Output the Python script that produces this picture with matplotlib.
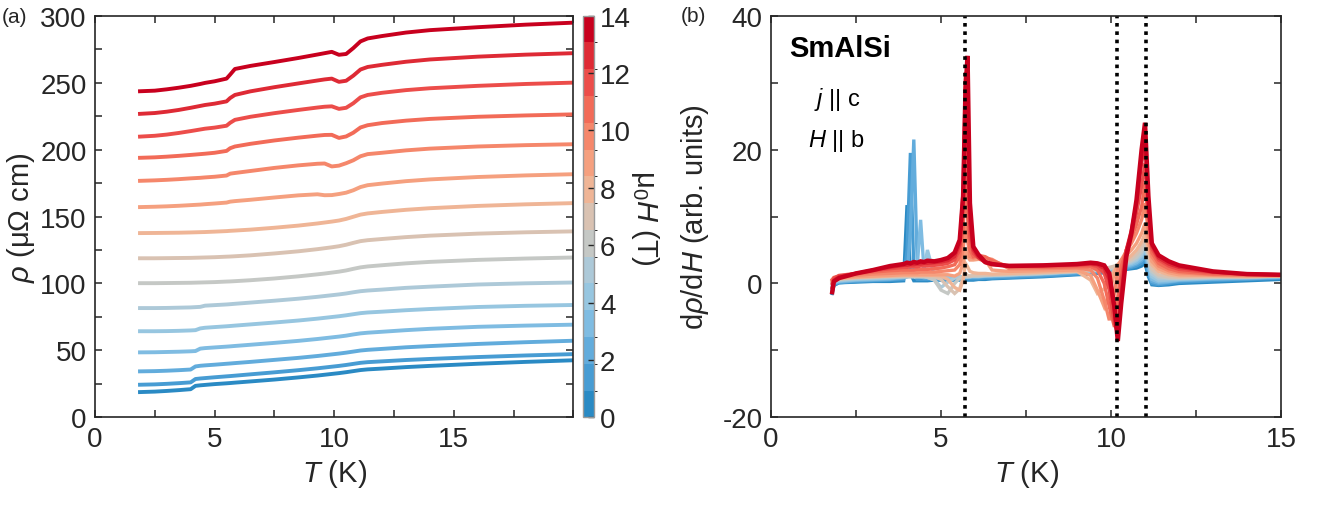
import numpy as np
import matplotlib.pyplot as plt
from matplotlib.colors import ListedColormap, BoundaryNorm
from matplotlib.cm import ScalarMappable

plt.rcParams['font.family'] = ['Liberation Sans', 'DejaVu Sans']
plt.rcParams['mathtext.fontset'] = 'custom'
plt.rcParams['mathtext.rm'] = 'Liberation Sans'
plt.rcParams['mathtext.it'] = 'Liberation Sans:italic'
plt.rcParams['mathtext.bf'] = 'Liberation Sans:bold'

# field values (T) and the 15-step colour map
fields = list(range(15))
field_colors = ['#2a8ac4', '#479cd3', '#62acdc', '#7fbce2', '#97c6e0',
                '#adc9d8', '#c5c8c5', '#d9c2b2', '#efb596', '#f5a07f',
                '#f5876b', '#f26b58', '#ec4d4a', '#de2a35', '#c8001e']

# ---- panel (a): resistivity vs T ----
T_rho = [1.8, 2.5, 3.0, 3.5, 4.0, 4.2, 4.4, 4.6, 5.0, 5.5, 5.65, 5.85, 6.5, 7.5, 8.5,
         9.3, 9.6, 9.9, 10.2, 10.5, 10.8, 11.1, 11.4, 12.0, 13.0, 14.0, 16.0, 18.0, 20.0]

rho_00 = [18.8, 19.2, 19.7, 20.3, 21.0, 23.5, 23.9, 24.2, 24.8, 25.4, 25.6, 25.9, 26.8, 28.2, 29.8,
          31.2, 31.8, 32.4, 33.0, 33.7, 34.5, 35.3, 35.8, 36.4, 37.5, 38.4, 40.0, 41.4, 42.6]
rho_01 = [24.3, 24.6, 25.0, 25.5, 26.1, 28.6, 29.0, 29.3, 29.9, 30.6, 30.8, 31.1, 32.1, 33.6, 35.2,
          36.6, 37.2, 37.8, 38.4, 39.1, 39.9, 40.7, 41.2, 41.8, 42.8, 43.6, 45.0, 46.2, 47.2]
rho_02 = [34.3, 34.5, 34.8, 35.2, 35.7, 38.0, 38.5, 38.8, 39.3, 40.0, 40.2, 40.5, 41.4, 42.9, 44.4,
          45.8, 46.4, 47.0, 47.6, 48.3, 49.1, 49.9, 50.4, 51.1, 52.3, 53.2, 54.8, 56.1, 57.2]
rho_03 = [48.5, 48.6, 48.8, 49.0, 49.3, 49.5, 51.3, 51.7, 52.2, 52.8, 53.0, 53.3, 54.2, 55.6, 57.1,
          58.5, 59.1, 59.7, 60.3, 61.0, 61.9, 62.7, 63.2, 63.9, 65.1, 66.1, 67.6, 68.5, 69.2]
rho_04 = [64.3, 64.3, 64.4, 64.6, 64.9, 65.1, 66.4, 66.9, 67.4, 68.0, 68.2, 68.5, 69.4, 70.8, 72.3,
          73.7, 74.3, 74.9, 75.5, 76.2, 77.0, 77.8, 78.3, 78.9, 80.0, 80.9, 82.4, 83.3, 83.9]
rho_05 = [81.6, 81.6, 81.7, 81.9, 82.1, 82.3, 82.5, 83.4, 83.8, 84.3, 84.5, 84.8, 85.7, 87.1, 88.6,
          90.0, 90.6, 91.2, 91.8, 92.5, 93.4, 94.2, 94.7, 95.4, 96.7, 97.6, 99.2, 100.1, 100.7]
rho_06 = [100.2, 100.2, 100.3, 100.4, 100.5, 100.6, 100.7, 100.8, 101.0, 101.4, 101.5, 101.7, 102.4, 103.7, 105.3,
          106.8, 107.4, 108.1, 108.8, 109.7, 110.9, 112.0, 112.7, 113.6, 115.0, 116.1, 117.6, 118.6, 119.4]
rho_07 = [118.8, 118.8, 118.9, 119.0, 119.1, 119.2, 119.3, 119.4, 119.6, 120.0, 120.1, 120.3, 121.0, 122.4, 124.0,
          125.6, 126.3, 127.0, 127.8, 128.9, 130.3, 131.6, 132.3, 133.2, 134.6, 135.7, 137.2, 138.2, 138.9]
rho_08 = [137.6, 137.7, 137.8, 137.9, 138.1, 138.2, 138.3, 138.4, 138.7, 139.1, 139.3, 139.5, 140.2, 141.6, 143.2,
          144.8, 145.5, 146.2, 147.0, 148.2, 149.8, 151.4, 152.3, 153.4, 155.0, 156.2, 157.9, 159.1, 160.0]
rho_09 = [157.0, 157.3, 157.6, 158.0, 158.5, 158.7, 158.9, 159.2, 159.7, 160.4, 161.1, 161.5, 162.5, 164.2, 165.8,
          166.6, 165.9, 166.0, 166.8, 167.8, 169.6, 172.0, 173.4, 174.6, 176.4, 177.7, 179.5, 180.7, 181.6]
rho_10 = [176.6, 177.0, 177.4, 177.9, 178.5, 178.7, 178.9, 179.2, 179.7, 180.6, 182.0, 182.5, 184.0, 186.3, 188.2,
          189.4, 189.6, 187.4, 188.0, 189.8, 192.0, 195.0, 196.6, 197.6, 199.4, 200.7, 202.3, 203.3, 204.0]
rho_11 = [193.8, 194.2, 194.7, 195.3, 196.0, 196.3, 196.6, 196.9, 197.6, 199.0, 201.0, 202.3, 204.3, 206.8, 208.9,
          210.4, 210.9, 211.0, 208.7, 209.8, 212.6, 216.5, 218.2, 219.8, 221.6, 222.9, 224.5, 225.5, 226.3]
rho_12 = [209.6, 210.3, 211.2, 212.4, 213.8, 214.4, 215.0, 215.6, 216.4, 217.8, 220.0, 222.2, 224.5, 227.2, 229.6,
          231.4, 232.0, 232.3, 230.4, 231.2, 234.6, 239.0, 240.8, 242.4, 244.4, 245.8, 247.6, 249.0, 250.0]
rho_13 = [226.6, 227.3, 228.3, 229.6, 231.2, 231.9, 232.6, 233.3, 234.3, 236.0, 238.5, 240.8, 243.5, 246.6, 249.4,
          251.6, 252.4, 253.0, 250.6, 251.4, 255.2, 259.8, 261.7, 263.3, 265.6, 267.3, 269.4, 270.9, 272.0]
rho_14 = [243.5, 244.0, 245.0, 246.2, 247.6, 248.3, 249.0, 249.8, 251.0, 253.0, 256.0, 260.2, 262.5, 265.4, 268.4,
          271.0, 272.0, 273.0, 270.8, 271.4, 275.8, 280.8, 283.0, 284.8, 287.4, 289.2, 291.4, 293.3, 294.8]

rho_curves = [rho_00, rho_01, rho_02, rho_03, rho_04, rho_05, rho_06, rho_07,
              rho_08, rho_09, rho_10, rho_11, rho_12, rho_13, rho_14]

# ---- panel (b): d rho / dH vs T ----
T_d = [1.8, 1.85, 2.0, 2.5, 3.0, 3.5, 3.9, 4.0, 4.1, 4.2, 4.3, 4.4, 4.5, 4.6, 4.8, 5.0, 5.2, 5.4,
       5.55, 5.65, 5.72, 5.78, 5.85, 5.95, 6.1, 6.3, 6.5, 7.0, 8.0, 9.0, 9.4, 9.6, 9.8, 9.95,
       10.1, 10.2, 10.3, 10.45, 10.6, 10.75, 10.9, 11.0, 11.1, 11.2, 11.4, 11.7, 12.0, 13.0, 14.0, 15.0]

d_00 = [-1.5, -0.3, 0.1, 0.2, 0.3, 0.3, 0.4, 11.7, 1.5, 0.4, 0.4, 0.4, 0.4, 0.4, 0.5, 0.5, 0.5, 0.5,
        0.5, 0.5, 0.5, 0.5, 0.5, 0.5, 0.6, 0.6, 0.7, 0.8, 1.0, 1.3, 1.4, 1.5, 1.6, 1.7,
        1.8, 1.9, 2.0, 2.1, 2.2, 2.3, 2.6, 3.0, 1.0, -0.2, -0.3, -0.2, 0.0, 0.2, 0.4, 0.6]
d_01 = [-1.2, -0.2, 0.1, 0.3, 0.4, 0.5, 0.6, 5.0, 19.5, 2.0, 0.6, 0.6, 0.6, 0.6, 0.6, 0.6, 0.6, 0.6,
        0.7, 0.7, 0.7, 0.7, 0.7, 0.7, 0.7, 0.8, 0.8, 0.9, 1.1, 1.4, 1.5, 1.6, 1.7, 1.8,
        1.9, 2.0, 2.1, 2.2, 2.4, 2.6, 3.0, 3.6, 1.5, 0.0, -0.2, 0.0, 0.2, 0.4, 0.6, 0.8]
d_02 = [-1.0, 0.0, 0.2, 0.4, 0.5, 0.6, 0.8, 1.0, 8.0, 21.5, 3.0, 1.0, 0.8, 0.8, 0.8, 0.8, 0.8, 0.8,
        0.8, 0.9, 0.9, 0.9, 0.9, 0.9, 0.9, 1.0, 1.0, 1.1, 1.3, 1.6, 1.7, 1.8, 1.9, 2.0,
        2.1, 2.2, 2.3, 2.4, 2.6, 2.9, 3.4, 4.2, 2.0, 0.3, 0.0, 0.2, 0.4, 0.6, 0.7, 0.9]
d_03 = [-0.8, 0.1, 0.3, 0.5, 0.6, 0.7, 0.9, 1.0, 1.1, 1.2, 2.5, 9.5, 2.0, 1.0, 0.9, 0.9, 0.9, 0.9,
        0.9, 1.0, 1.0, 1.0, 1.0, 1.0, 1.0, 1.1, 1.1, 1.2, 1.4, 1.7, 1.8, 1.9, 2.0, 2.1,
        2.2, 2.3, 2.4, 2.6, 2.8, 3.1, 3.7, 4.8, 2.6, 0.6, 0.2, 0.3, 0.5, 0.7, 0.8, 1.0]
d_04 = [-0.5, 0.2, 0.4, 0.6, 0.7, 0.8, 1.0, 1.1, 1.1, 1.2, 1.2, 1.3, 2.0, 5.0, 1.2, 1.0, 0.9, 0.9,
        1.0, 1.0, 1.0, 1.0, 1.0, 1.1, 1.1, 1.1, 1.2, 1.3, 1.5, 1.8, 1.9, 2.0, 2.1, 2.2,
        2.3, 2.4, 2.6, 2.8, 3.0, 3.4, 4.1, 5.4, 3.2, 1.0, 0.4, 0.5, 0.6, 0.8, 0.9, 1.0]
d_05 = [-0.3, 0.3, 0.5, 0.7, 0.8, 0.9, 1.0, 1.0, 1.0, 1.0, 1.0, 1.0, 1.0, 0.9, 0.6, -0.6, 0.2, 0.8,
        1.0, 1.0, 1.0, 1.0, 1.0, 1.1, 1.1, 1.2, 1.2, 1.3, 1.5, 1.8, 1.9, 2.0, 2.1, 2.2,
        2.3, 2.5, 2.7, 2.9, 3.2, 3.6, 4.4, 5.8, 3.6, 1.4, 0.7, 0.7, 0.7, 0.9, 1.0, 1.1]
d_06 = [0.0, 0.4, 0.6, 0.8, 0.9, 1.0, 1.0, 1.0, 1.0, 1.0, 1.0, 1.0, 1.0, 0.9, 0.5, -1.0, -1.5, 0.0,
        0.8, 1.0, 1.0, 1.0, 1.1, 1.1, 1.1, 1.2, 1.2, 1.3, 1.5, 1.8, 1.9, 2.0, 2.1, 2.3,
        2.4, 2.6, 2.8, 3.1, 3.4, 3.9, 4.8, 6.3, 4.0, 1.8, 1.0, 0.8, 0.8, 0.9, 1.0, 1.1]
d_07 = [0.2, 0.5, 0.7, 0.9, 1.0, 1.1, 1.1, 1.1, 1.1, 1.1, 1.1, 1.1, 1.1, 1.1, 1.0, 0.6, -0.5, -1.5,
        -0.8, 1.0, 1.5, 1.2, 1.1, 1.2, 1.3, 1.3, 1.3, 1.4, 1.6, 1.9, 2.0, 2.1, 2.2, 2.4,
        2.6, 2.8, 3.0, 3.3, 3.7, 4.4, 5.4, 7.0, 4.6, 2.2, 1.3, 1.0, 0.9, 1.0, 1.0, 1.1]
d_08 = [0.3, 0.6, 0.7, 0.9, 1.0, 1.1, 1.2, 1.2, 1.2, 1.2, 1.2, 1.2, 1.2, 1.2, 1.2, 1.1, 0.6, -0.6,
        -1.0, 0.5, 3.0, 2.5, 1.8, 1.6, 1.5, 1.5, 1.4, 1.5, 1.7, 1.8, 0.5, -1.5, -0.8, 0.8,
        2.0, 2.5, 3.0, 3.5, 4.2, 5.0, 6.2, 7.5, 5.2, 2.8, 1.8, 1.3, 1.1, 1.1, 1.0, 1.1]
d_09 = [0.4, 0.7, 0.8, 1.0, 1.1, 1.2, 1.3, 1.3, 1.3, 1.3, 1.3, 1.3, 1.3, 1.3, 1.3, 1.3, 1.3, 1.1,
        1.5, 3.0, 5.0, 4.0, 3.5, 3.5, 3.6, 3.5, 2.0, 1.8, 1.9, 2.0, 1.2, -1.0, -3.5, -1.5,
        1.5, 2.8, 3.5, 4.2, 5.0, 6.0, 7.5, 9.0, 6.0, 3.3, 2.2, 1.6, 1.3, 1.2, 1.1, 1.1]
d_10 = [0.5, 0.8, 0.9, 1.2, 1.4, 1.5, 1.6, 1.6, 1.6, 1.6, 1.6, 1.7, 1.7, 1.7, 1.7, 1.8, 1.9, 2.0,
        2.8, 5.0, 9.0, 6.5, 4.0, 3.8, 4.0, 3.8, 3.6, 2.2, 2.2, 2.3, 2.0, 0.8, -2.5, -5.5,
        -1.5, 2.0, 3.5, 4.8, 6.0, 7.5, 9.5, 12.0, 7.5, 4.0, 2.6, 1.9, 1.6, 1.3, 1.2, 1.2]
d_11 = [0.6, 0.9, 1.1, 1.4, 1.7, 1.9, 2.0, 2.0, 2.0, 2.0, 2.1, 2.1, 2.1, 2.1, 2.2, 2.3, 2.5, 2.8,
        4.0, 8.0, 15.0, 10.0, 5.0, 4.0, 4.2, 4.0, 3.4, 2.5, 2.4, 2.5, 2.5, 2.0, 0.0, -3.5,
        -6.5, -2.0, 2.5, 5.0, 6.8, 8.8, 11.5, 15.0, 9.0, 4.6, 3.0, 2.2, 1.8, 1.4, 1.3, 1.2]
d_12 = [0.0, 0.8, 1.2, 1.5, 1.9, 2.2, 2.4, 2.4, 2.5, 2.5, 2.5, 2.6, 2.6, 2.6, 2.7, 2.8, 3.0, 3.5,
        5.0, 11.0, 22.0, 16.0, 7.0, 4.5, 3.8, 3.2, 2.9, 2.6, 2.6, 2.7, 2.8, 2.5, 1.5, -1.0,
        -6.0, -7.5, 0.5, 5.0, 7.5, 10.5, 14.5, 18.0, 10.5, 5.2, 3.5, 2.6, 2.1, 1.6, 1.4, 1.3]
d_13 = [-0.6, 0.5, 1.0, 1.5, 2.0, 2.4, 2.7, 2.7, 2.8, 2.8, 2.9, 2.9, 3.0, 3.0, 3.1, 3.2, 3.4, 4.0,
        5.8, 14.0, 31.5, 24.0, 9.0, 5.0, 3.9, 3.1, 2.8, 2.7, 2.7, 2.8, 2.9, 2.8, 2.2, 0.5,
        -4.0, -8.2, -1.5, 5.0, 8.0, 12.0, 18.0, 21.0, 11.5, 5.6, 3.8, 2.9, 2.4, 1.7, 1.4, 1.3]
d_14 = [-1.3, 0.3, 0.8, 1.5, 2.0, 2.6, 2.9, 3.1, 3.0, 3.2, 3.1, 3.3, 3.2, 3.4, 3.3, 3.5, 3.8, 4.6,
        6.5, 13.0, 29.0, 34.0, 12.0, 5.5, 4.3, 3.2, 2.9, 2.6, 2.7, 2.9, 3.1, 3.0, 2.7, 1.5,
        -3.5, -8.6, -3.0, 4.0, 7.5, 12.5, 20.0, 24.0, 13.0, 6.0, 4.2, 3.3, 2.7, 1.8, 1.4, 1.3]

d_curves = [d_00, d_01, d_02, d_03, d_04, d_05, d_06, d_07,
            d_08, d_09, d_10, d_11, d_12, d_13, d_14]

# transition temperatures (dotted lines)
T_trans = [5.71, 10.19, 11.03]

ink = '#262626'
fig = plt.figure(figsize=(13.25, 5.06), dpi=100)
ax1 = fig.add_axes([0.0717, 0.1733, 0.361, 0.7937])
cax = fig.add_axes([0.4398, 0.1733, 0.00875, 0.7937])
ax2 = fig.add_axes([0.5819, 0.1733, 0.3849, 0.7937])

for f, c, r in zip(fields, field_colors, rho_curves):
    ax1.plot(T_rho, r, color=c, lw=2.8, solid_capstyle='butt')

for f, c, d in zip(fields, field_colors, d_curves):
    ax2.plot(T_d, d, color=c, lw=2.4 if f < 14 else 3.2, solid_joinstyle='miter')

for t in T_trans:
    ax2.axvline(t, color='k', lw=2.6, ls=(0, (1, 1.3)), dash_capstyle='butt')


def style(ax, xt, xl, yt, yl):
    ax.set_xticks(xt)
    ax.set_xticklabels(xl)
    ax.set_yticks(yt)
    ax.set_yticklabels(yl)
    ax.tick_params(direction='in', length=5, width=1.1, top=True, right=True,
                   labelsize=20, colors=ink, pad=6)
    for s in ax.spines.values():
        s.set_color(ink)
        s.set_linewidth(1.2)


xt1 = [0, 2.5, 5, 7.5, 10, 12.5, 15, 17.5, 20]
xl1 = ['0', '', '5', '', '10', '', '15', '', '']
yt1 = list(range(0, 301, 25))
yl1 = [str(v) if v % 50 == 0 else '' for v in yt1]
style(ax1, xt1, xl1, yt1, yl1)
ax1.set_xlim(0, 20)
ax1.set_ylim(0, 300)
ax1.set_xlabel(r'$T$ (K)', fontsize=21, color=ink, labelpad=4)
ax1.set_ylabel(r'$\rho$ (μΩ cm)', fontsize=21, color=ink, labelpad=2)

xt2 = [0, 2.5, 5, 7.5, 10, 12.5, 15]
xl2 = ['0', '', '5', '', '10', '', '15']
yt2 = [-20, -10, 0, 10, 20, 30, 40]
yl2 = ['-20', '', '0', '', '20', '', '40']
style(ax2, xt2, xl2, yt2, yl2)
ax2.set_xlim(0, 15)
ax2.set_ylim(-20, 40)
ax2.set_xlabel(r'$T$ (K)', fontsize=21, color=ink, labelpad=4)
ax2.set_ylabel(r'd$\rho$/d$H$ (arb. units)', fontsize=21, color=ink, labelpad=8)

ax2.text(0.035, 0.92, 'SmAlSi', transform=ax2.transAxes, fontsize=21,
         fontweight='bold', color='k', va='center')
ax2.text(0.085, 0.795, r'$j$ || c', transform=ax2.transAxes, fontsize=17,
         color='k', va='center')
ax2.text(0.072, 0.69, r'$H$ || b', transform=ax2.transAxes, fontsize=17,
         color='k', va='center')

# colour bar
cmap = ListedColormap(field_colors)
norm = BoundaryNorm(np.linspace(0, 14, 16), cmap.N)
cb = fig.colorbar(ScalarMappable(norm=norm, cmap=cmap), cax=cax,
                  ticks=[0, 2, 4, 6, 8, 10, 12, 14], spacing='proportional')
cb.ax.tick_params(direction='in', length=4, width=1, labelsize=20, colors=ink, pad=4)
cb.outline.set_edgecolor('#9a9a9a')
cb.outline.set_linewidth(1.0)
cb.set_label(r'μ$_0$$H$ (T)', fontsize=21, color=ink, rotation=-90, labelpad=22)

fig.text(0.0015, 0.965, '(a)', fontsize=15, color=ink, va='center')
fig.text(0.514, 0.968, '(b)', fontsize=15, color=ink, va='center')

fig.savefig('out.png', dpi=100)
